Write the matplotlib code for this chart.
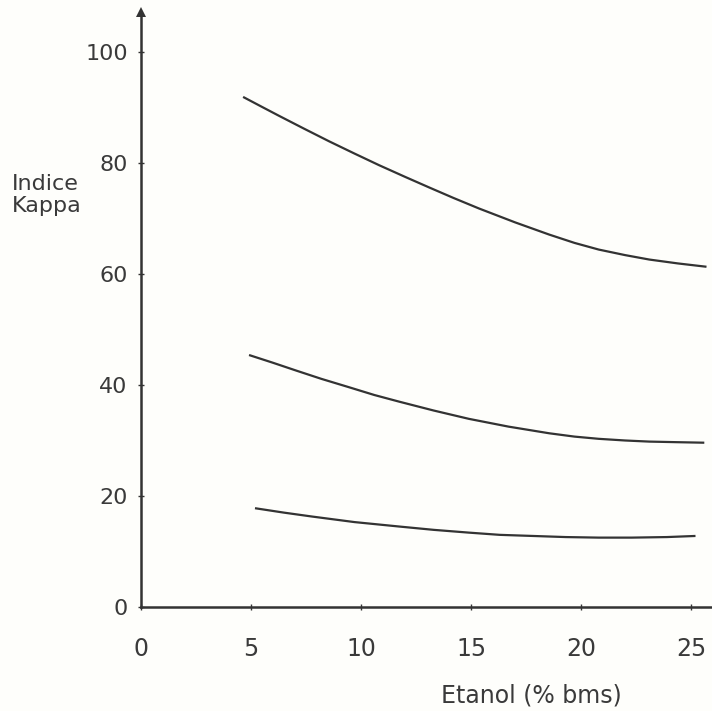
import matplotlib
matplotlib.use("Agg")
import matplotlib.pyplot as plt

# Data
x_top = [4.64, 5.5, 6.27, 7.4, 8.55, 9.7, 10.82, 12.0, 13.09, 14.2, 15.36, 17.0,
         18.55, 19.7, 20.8, 22.0, 23.1, 24.4, 25.7]
y_top = [91.9, 90.1, 88.5, 86.2, 83.9, 81.7, 79.6, 77.5, 75.6, 73.7, 71.8, 69.3,
         67.1, 65.6, 64.4, 63.4, 62.6, 61.9, 61.3]

x_mid = [4.91, 6.0, 7.05, 8.2, 9.45, 10.6, 11.73, 13.3, 14.9, 16.7, 18.55, 19.7,
         20.8, 22.0, 23.1, 24.3, 25.6]
y_mid = [45.4, 44.0, 42.6, 41.1, 39.6, 38.2, 37.0, 35.4, 33.9, 32.5, 31.3, 30.7,
         30.3, 30.0, 29.8, 29.7, 29.6]

x_bot = [5.18, 6.5, 7.77, 9.7, 11.73, 13.3, 14.9, 16.3, 17.8, 19.3, 20.8, 22.3,
         23.9, 25.2]
y_bot = [17.8, 17.0, 16.3, 15.3, 14.5, 13.9, 13.4, 13.0, 12.8, 12.6, 12.5, 12.5,
         12.6, 12.8]

x_ticks = [0, 5, 10, 15, 20, 25]
y_ticks = [0, 20, 40, 60, 80, 100]

ink = "#333333"
text_col = "#3a3a3a"
bg = "#fefefb"

plt.rcParams['font.family'] = ['DejaVu Sans']

fig = plt.figure(figsize=(7.12, 7.11), dpi=100, facecolor=bg)
ax = fig.add_axes([141/712, 104/711, 571/712, 595/711])
ax.set_facecolor(bg)

for xs, ys in [(x_top, y_top), (x_mid, y_mid), (x_bot, y_bot)]:
    ax.plot(xs, ys, color=ink, lw=1.6, solid_capstyle='butt', solid_joinstyle='round')

ax.set_xlim(0, 25.95)
ax.set_ylim(0, 107.2)

for s in ['top', 'right']:
    ax.spines[s].set_visible(False)
for s in ['left', 'bottom']:
    ax.spines[s].set_color(ink)
    ax.spines[s].set_linewidth(1.8)

ax.set_xticks(x_ticks)
ax.set_yticks(y_ticks)
ax.set_xticklabels([str(v) for v in x_ticks])
ax.set_yticklabels([str(v) for v in y_ticks])
ax.tick_params(axis='both', direction='inout', length=5, width=1, color=ink,
               labelcolor=text_col, labelsize=16)
ax.tick_params(axis='y', pad=7)
ax.tick_params(axis='x', pad=19, labelsize=17)

# arrow head on y axis
ax.plot([0], [1.0], marker='^', color=ink, ms=7, transform=ax.get_xaxis_transform(),
        clip_on=False, markeredgewidth=0)

fig.text(12/712, 1 - 195/711, "Indice\nKappa", ha='left', va='center',
         fontsize=16, color=text_col, linespacing=1.15)
fig.text(531/712, 1 - 696/711, "Etanol (% bms)", ha='center', va='center',
         fontsize=17, color=text_col)

fig.savefig("out.png", dpi=100, facecolor=bg)
